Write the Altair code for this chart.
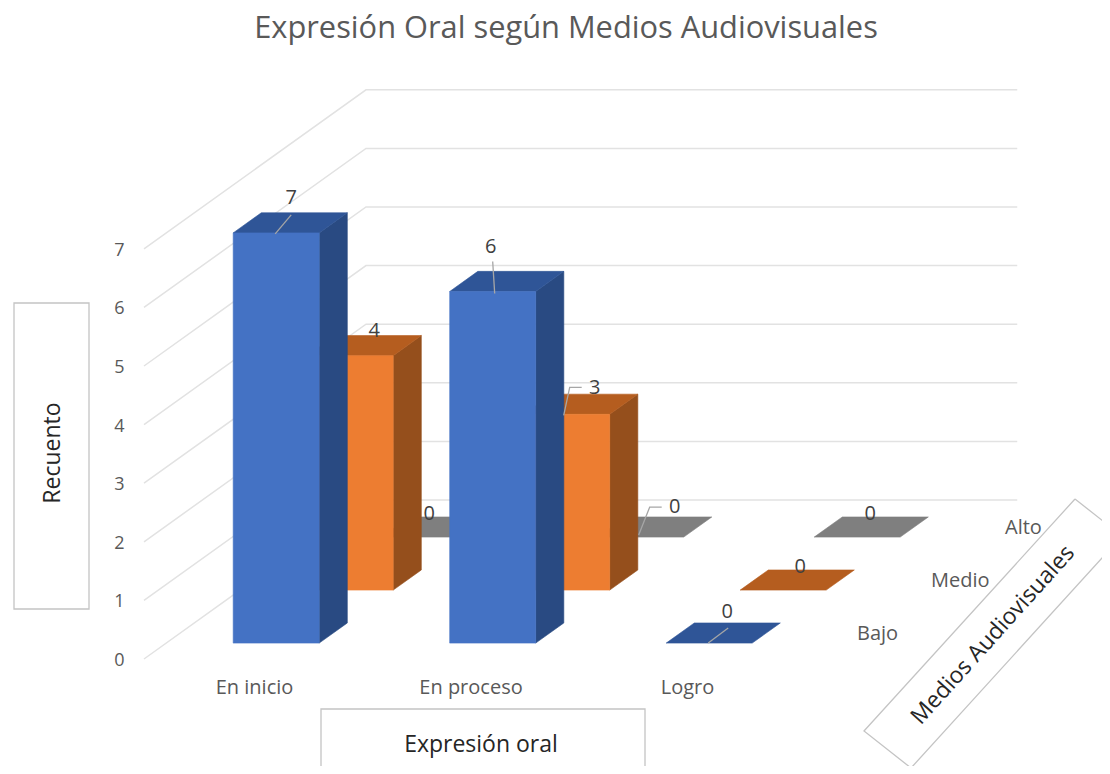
import altair as alt
import pandas as pd

TITLE = "Expresión Oral según Medios Audiovisuales"
CATEGORIES = ["En inicio", "En proceso", "Logro"]
SERIES = ["Bajo", "Medio", "Alto"]
VALUES_BAJO = [7, 6, 0]
VALUES_MEDIO = [4, 3, 0]
VALUES_ALTO = [0, 0, 0]
TICKS = [0, 1, 2, 3, 4, 5, 6, 7]

VALUES = [VALUES_BAJO, VALUES_MEDIO, VALUES_ALTO]
FRONT = ["#4472C4", "#ED7D31", "#A5A5A5"]
TOP = ["#2F5597", "#B55D1F", "#7F7F7F"]
SIDE = ["#294A82", "#954F1C", "#636363"]
FONT = "Open Sans"

# Page geometry: reference pixel -> scale units
W, H, M = 1094, 758, 8
CAT_PX, VAL_PX = 216.5, 58.6
CAT0_X, VAL0_Y = 254.0, 659.0
DEPTH_X, DEPTH_Y = 74.0 / CAT_PX, 53.0 / VAL_PX  # shift of one series row
FIRST_ROW, THICK, HALF = 0.30, 0.38, 43.0 / CAT_PX


def ux(px):
    return (px - CAT0_X) / CAT_PX


def uy(px):
    return (VAL0_Y - px) / VAL_PX


def project(cat, val, depth):
    return cat + depth * DEPTH_X, val + depth * DEPTH_Y


xs = alt.Scale(domain=[ux(M), ux(M + W)], range=[0, W], nice=False, zero=False)
ys = alt.Scale(domain=[uy(M + H), uy(M)], range=[H, 0], nice=False, zero=False)
x_axis = alt.Axis(
    values=[0, 1, 2], title=None, grid=False, ticks=False, domain=False,
    labelExpr="['En inicio','En proceso','Logro'][datum.value]",
    offset=-79, labelPadding=0, labelFont=FONT, labelFontSize=20,
    labelColor="#595959", labelBaseline="middle")
y_axis = alt.Axis(
    values=TICKS, title=None, grid=False, ticks=False, domain=False,
    offset=-116, labelPadding=0, labelFont=FONT, labelFontSize=18, labelOffset=1.5,
    labelColor="#595959", labelAlign="right", format="d")
NOX, NOY = alt.X("x:Q", scale=xs, axis=x_axis), alt.Y("y:Q", scale=ys, axis=y_axis)

# Walls: gridlines bend at the back corner
grid_rows = []
LEFT, RIGHT, BACK = ux(144), 2.5, 3.0
for t in TICKS:
    for i, (c, d) in enumerate([(LEFT, 0), (LEFT, BACK), (RIGHT, BACK)]):
        x, y = project(c, t, d)
        grid_rows.append(dict(t=t, i=i, x=x, y=y))
grid = alt.Chart(pd.DataFrame(grid_rows)).mark_line(color="#E2E2E2", strokeWidth=1.5).encode(
    x=NOX, y=NOY, detail="t:N", order="i:Q")

layers = [grid]
for s in [2, 1, 0]:
    d0, d1 = FIRST_ROW + s, FIRST_ROW + s + THICK
    side, top, front = [], [], []
    for c, v in enumerate(VALUES[s]):
        # right side face: vertical edges
        if v > 0:
            for d in (d0, d1):
                x, y = project(c + HALF, v, d)
                _, y0 = project(c + HALF, 0, d)
                side.append(dict(c=c, x=x, y=y, y2=y0))
            xa, ya = project(c - HALF, v, d0)
            xb, yb = project(c + HALF, 0, d0)
            front.append(dict(x=xa, x2=xb, y=ya, y2=yb))
        # top face: horizontal edges
        for d in (d0, d1):
            xa, y = project(c - HALF, v, d)
            xb, _ = project(c + HALF, v, d)
            top.append(dict(c=c, x=xa, x2=xb, y=y))
    if side:
        layers.append(alt.Chart(pd.DataFrame(side)).mark_area(
            color=SIDE[s], orient="vertical", stroke=SIDE[s], strokeWidth=0.6).encode(
            x=NOX, y=NOY, y2="y2:Q", detail="c:N"))
    layers.append(alt.Chart(pd.DataFrame(top)).mark_area(
        color=TOP[s], orient="horizontal", stroke=TOP[s], strokeWidth=0.6).encode(
        x=NOX, x2="x2:Q", y=NOY, detail="c:N"))
    if front:
        layers.append(alt.Chart(pd.DataFrame(front)).mark_rect(
            color=FRONT[s], stroke=FRONT[s], strokeWidth=0.6).encode(
            x=NOX, x2="x2:Q", y=NOY, y2="y2:Q"))

# Data labels and their leader lines, offsets in pixels from the bar's top front centre
LABEL_OFFSETS = {(0, 0): (15, -35), (1, 0): (-2, -45), (2, 0): (18, -31),
                 (0, 1): (24, -25), (1, 1): (28, -26), (2, 1): (17, -23),
                 (0, 2): (5, -23), (1, 2): (34, -30), (2, 2): (13, -23)}
LEADERS = {(0, 0): [(-1, 1), (15, -18)], (1, 0): [(2, 2), (0, -30)], (2, 0): [(-1, 0), (19, -15)],
           (1, 1): [(-3, 1), (3, -27), (15, -27)], (1, 2): [(-2, -2), (9, -30), (21, -30)]}


def anchor(c, s, dx, dy):
    x, y = project(c, VALUES[s][c], FIRST_ROW + s)
    return x + dx / CAT_PX, y - dy / VAL_PX


leader_rows = []
for k, pts in LEADERS.items():
    for i, (dx, dy) in enumerate(pts):
        x, y = anchor(k[0], k[1], dx, dy)
        leader_rows.append(dict(k=str(k), i=i, x=x, y=y))
layers.append(alt.Chart(pd.DataFrame(leader_rows)).mark_line(color="#A6A6A6", strokeWidth=1.3).encode(
    x=NOX, y=NOY, detail="k:N", order="i:Q"))

label_rows = []
for (c, s), (dx, dy) in LABEL_OFFSETS.items():
    x, y = anchor(c, s, dx, dy)
    label_rows.append(dict(x=x, y=y, v=VALUES[s][c]))
layers.append(alt.Chart(pd.DataFrame(label_rows)).mark_text(
    font=FONT, fontSize=20, color="#404040", baseline="middle", align="center").encode(
    x=NOX, y=NOY, text="v:Q"))

# Depth-axis labels
depth_rows = []
for s, name in enumerate(SERIES):
    x, y = project(ux(857 - 22.2), 9.5 / VAL_PX, FIRST_ROW + s)
    depth_rows.append(dict(x=x, y=y, name=name))
layers.append(alt.Chart(pd.DataFrame(depth_rows)).mark_text(
    font=FONT, fontSize=20, color="#595959", baseline="middle", align="left").encode(
    x=NOX, y=NOY, text="name:N"))


# Boxed axis titles
def box(x0, x1, y0, y1):
    return alt.Chart(pd.DataFrame({"a": [0]})).mark_rect(
        fill="transparent", stroke="#C4C4C4", strokeWidth=1.3).encode(
        x=alt.value(x0 - M), x2=alt.value(x1 - M), y=alt.value(y0 - M), y2=alt.value(y1 - M))


def caption(text, cx, cy, angle):
    return alt.Chart(pd.DataFrame({"t": [text]})).mark_text(
        font=FONT, fontSize=23, color="#262626", angle=angle, align="center", baseline="middle").encode(
        x=alt.value(cx - M), y=alt.value(cy - M), text="t:N")


layers += [box(14, 89, 303, 609), caption("Recuento", 53, 453, 270)]
layers += [box(321, 645, 709, 800), caption("Expresión oral", 481, 745, 0)]
corners = [(1075, 499), (864, 731), (911, 768), (1122, 536), (1075, 499)]
tilted = pd.DataFrame([dict(i=i, x=ux(a), y=uy(b)) for i, (a, b) in enumerate(corners)])
layers.append(alt.Chart(tilted).mark_line(color="#C4C4C4", strokeWidth=1.3, clip=True).encode(
    x=NOX, y=NOY, order="i:Q"))
layers.append(caption("Medios Audiovisuales", 993, 635, 312))

chart = alt.layer(*layers).properties(
    width=W, height=H, padding=0,
    autosize=alt.AutoSizeParams(type="none"),
    title=alt.TitleParams(TITLE, anchor="middle", offset=-37, dx=11, font=FONT, fontSize=30.8,
                          fontWeight="normal", color="#595959"),
).configure_view(stroke=None)

chart.save("out.html", embed_options={"renderer": "svg", "actions": False})
